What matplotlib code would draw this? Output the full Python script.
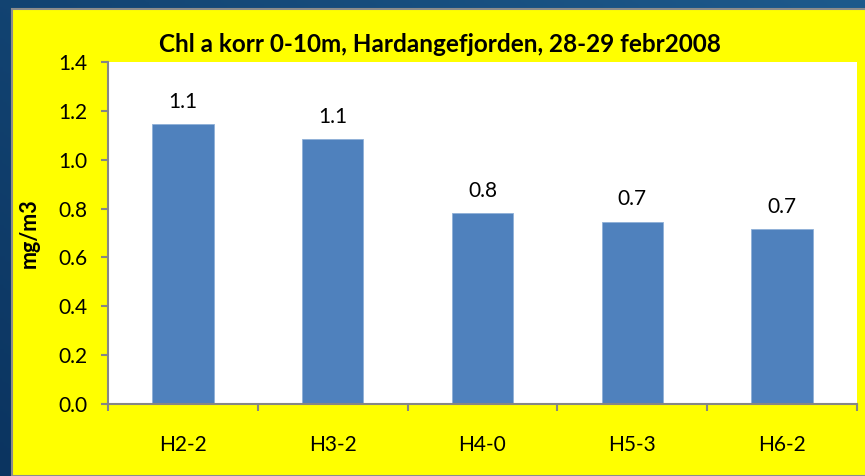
import matplotlib
matplotlib.use("Agg")
import matplotlib.pyplot as plt
from matplotlib.patches import Rectangle
from matplotlib.colors import LinearSegmentedColormap
import numpy as np

categories = ["H2-2", "H3-2", "H4-0", "H5-3", "H6-2"]
values = [1.146, 1.083, 0.781, 0.746, 0.716]
yticks = [0.0, 0.2, 0.4, 0.6, 0.8, 1.0, 1.2, 1.4]

W, H = 865, 476
fig = plt.figure(figsize=(W / 100, H / 100), dpi=100)
fig.patch.set_facecolor("#0f3f6e")

# background gradient
bg = fig.add_axes([0, 0, 1, 1], zorder=-10)
grad = np.linspace(0, 1, 256)
gx, gy = np.meshgrid(grad, grad)
img = 0.6 * gx + 0.4 * (1 - gy)
cmap = LinearSegmentedColormap.from_list("b", ["#0b3460", "#1d5a8c"])
bg.imshow(img, cmap=cmap, aspect="auto", extent=[0, 1, 0, 1], origin="upper")
bg.set_axis_off()

def fx(px):
    return px / W

def fy(py):
    return 1 - py / H

# yellow chart panel
panel = Rectangle((fx(11.5), fy(475.5)), fx(865 - 11.5) + 0.01, (475.5 - 9) / H,
                  transform=fig.transFigure, facecolor="#ffff00",
                  edgecolor="#8c8c8c", linewidth=1.5, zorder=-5)
fig.patches.append(panel)

ax = fig.add_axes([fx(108), fy(404), fx(857 - 108), (404 - 62) / H])
ax.set_facecolor("white")

x = np.arange(len(categories))
ax.bar(x, values, width=0.41, color="#4f81bd", edgecolor="#8fb0d8",
       linewidth=0.6, zorder=2)

font = "Lato"
fs = 15
for xi, v in zip(x, values):
    ax.text(xi, v + 0.092, f"{v:.1f}", ha="center", va="center",
            fontsize=fs, family=font, color="black")

ax.set_xlim(-0.5, len(categories) - 0.5)
ax.set_ylim(0, 1.4)
ax.set_yticks(yticks)
ax.set_yticklabels([f"{t:.1f}" for t in yticks], family=font, fontsize=fs)
ax.set_xticks(x)
ax.set_xticklabels(categories, family=font, fontsize=fs)
ax.set_xticks(np.arange(-0.5, len(categories)), minor=True)
ax.tick_params(axis="x", which="major", length=0, pad=22)
ax.tick_params(axis="x", which="minor", length=5, color="#868686", width=1.5)
ax.tick_params(axis="y", length=5, color="#868686", width=1.5, pad=10)

for s in ["top", "right"]:
    ax.spines[s].set_visible(False)
for s in ["left", "bottom"]:
    ax.spines[s].set_color("#868686")
    ax.spines[s].set_linewidth(1.5)

fig.text(fx(29), fy(233), "mg/m3", rotation=90, ha="center", va="center",
         family=font, fontsize=15.5, fontweight="bold")
fig.text(fx(440), fy(44), "Chl a korr 0-10m, Hardangefjorden, 28-29 febr2008",
         ha="center", va="center", family=font, fontsize=17.5, fontweight="bold")

fig.savefig("out.png", dpi=100, facecolor=fig.get_facecolor())
